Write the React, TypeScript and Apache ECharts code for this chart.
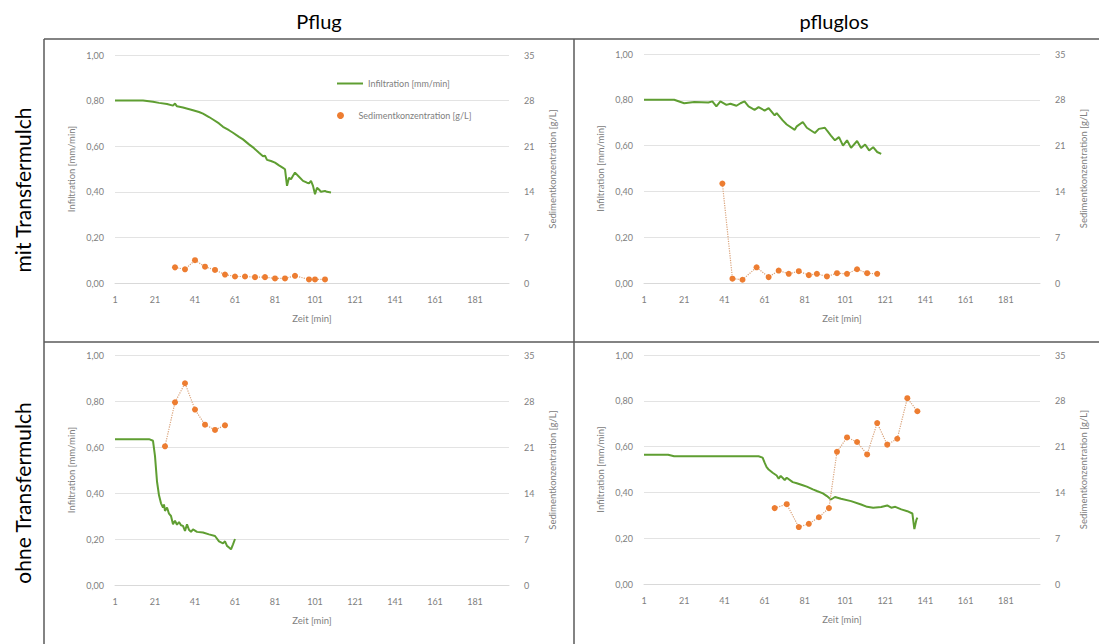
import React, { useEffect, useRef } from "react";
import * as echarts from "echarts";

// ---------- data ----------
const colTitles = ["Pflug", "pfluglos"];
const rowTitles = ["mit Transfermulch", "ohne Transfermulch"];
const infName = "Infiltration [mm/min]";
const sedName = "Sedimentkonzentration [g/L]";
const xTitle = "Zeit [min]";

// Panel A: mit Transfermulch / Pflug
const timeA = [1, 8, 15, 20, 23, 27, 30, 31, 32, 35, 40, 43, 45, 48, 50, 53, 55, 58, 60, 63, 65, 68, 70, 73, 75, 76, 77, 79, 81, 83, 85, 86, 87, 88, 89, 90, 91, 93, 95, 97, 98, 99, 100, 101, 102, 103, 104, 106, 107, 109];
const infA = [0.8, 0.8, 0.8, 0.795, 0.79, 0.785, 0.778, 0.787, 0.775, 0.77, 0.758, 0.75, 0.743, 0.728, 0.717, 0.7, 0.685, 0.67, 0.659, 0.641, 0.63, 0.608, 0.595, 0.571, 0.556, 0.558, 0.54, 0.535, 0.528, 0.516, 0.505, 0.499, 0.426, 0.462, 0.455, 0.47, 0.484, 0.466, 0.448, 0.44, 0.437, 0.448, 0.426, 0.389, 0.418, 0.41, 0.4, 0.404, 0.4, 0.397];
const sedTimeA = [31, 36, 41, 46, 51, 56, 61, 66, 71, 76, 81, 86, 91, 98, 101, 106];
const sedA = [2.4, 2.1, 3.5, 2.5, 2.0, 1.3, 1.0, 1.0, 0.9, 0.9, 0.7, 0.7, 1.1, 0.55, 0.55, 0.55];

// Panel B: mit Transfermulch / pfluglos
const timeB = [1, 16, 21, 26, 33, 35, 37, 39, 42, 44, 47, 49, 51, 53, 56, 58, 61, 63, 66, 67, 70, 72, 76, 77, 80, 82, 86, 88, 91, 92, 94, 96, 98, 100, 102, 104, 107, 109, 111, 113, 115, 117, 119];
const infB = [0.8, 0.8, 0.785, 0.79, 0.788, 0.793, 0.771, 0.793, 0.778, 0.783, 0.774, 0.785, 0.793, 0.771, 0.756, 0.768, 0.753, 0.764, 0.732, 0.742, 0.71, 0.692, 0.669, 0.684, 0.703, 0.678, 0.655, 0.673, 0.678, 0.666, 0.644, 0.623, 0.637, 0.6, 0.623, 0.59, 0.62, 0.59, 0.605, 0.579, 0.593, 0.572, 0.564];
const sedTimeB = [40, 45, 50, 57, 63, 68, 73, 78, 83, 87, 92, 97, 102, 107, 112, 117];
const sedB = [15.2, 0.66, 0.5, 2.4, 0.9, 1.9, 1.4, 1.8, 1.2, 1.4, 1.0, 1.5, 1.4, 2.1, 1.5, 1.4];

// Panel C: ohne Transfermulch / Pflug
const timeC = [1, 10, 18, 20, 21, 22, 23, 24, 25, 25.5, 26, 27, 28, 29, 30, 31, 32, 33, 34, 35, 36, 37, 38, 39, 40, 42, 45, 48, 51, 53, 55, 56, 57, 58, 59, 60, 61];
const infC = [0.634, 0.634, 0.634, 0.627, 0.56, 0.45, 0.39, 0.355, 0.337, 0.35, 0.322, 0.337, 0.31, 0.3, 0.264, 0.279, 0.262, 0.274, 0.26, 0.257, 0.235, 0.264, 0.24, 0.231, 0.242, 0.231, 0.228, 0.22, 0.213, 0.19, 0.181, 0.19, 0.17, 0.163, 0.155, 0.177, 0.2];
const sedTimeC = [26, 31, 36, 41, 46, 51, 56];
const sedC = [21.1, 27.8, 30.7, 26.7, 24.4, 23.6, 24.3];

// Panel D: ohne Transfermulch / pfluglos
const timeD = [1, 13, 16, 33, 58, 60, 61, 62, 63, 65, 67, 68, 69, 71, 72, 75, 77, 80, 82, 85, 87, 90, 92, 94, 96, 99, 104, 109, 112, 115, 119, 122, 124, 126, 129, 132, 134.5, 135.5, 136.5, 137];
const infD = [0.564, 0.564, 0.558, 0.558, 0.558, 0.552, 0.53, 0.51, 0.5, 0.486, 0.474, 0.46, 0.472, 0.454, 0.464, 0.445, 0.44, 0.431, 0.425, 0.413, 0.406, 0.396, 0.384, 0.369, 0.38, 0.372, 0.362, 0.347, 0.337, 0.333, 0.336, 0.343, 0.333, 0.337, 0.326, 0.318, 0.308, 0.24, 0.28, 0.29];
const sedTimeD = [66, 72, 78, 83, 88, 93, 97, 102, 107, 112, 117, 122, 127, 132, 137];
const sedD = [11.6, 12.2, 8.7, 9.2, 10.2, 11.6, 20.2, 22.4, 21.7, 19.8, 24.6, 21.3, 22.2, 28.4, 26.4];

const panels = [
  { t: timeA, inf: infA, st: sedTimeA, sed: sedA },
  { t: timeB, inf: infB, st: sedTimeB, sed: sedB },
  { t: timeC, inf: infC, st: sedTimeC, sed: sedC },
  { t: timeD, inf: infD, st: sedTimeD, sed: sedD },
];

// ---------- layout ----------
const FONT = "Lato, 'Open Sans', sans-serif";
const GREEN = "#5f9e32";
const ORANGE = "#ed7d31";
const LABEL = "#808080";
const gridBoxes = [
  { left: 115, top: 55, width: 394, height: 228 },
  { left: 644, top: 54, width: 396, height: 229 },
  { left: 115, top: 355, width: 394, height: 230 },
  { left: 644, top: 355, width: 396, height: 229 },
];

function buildOption() {
  const grid = gridBoxes.map((g) => ({ ...g }));
  const xAxis: any[] = [];
  const yAxis: any[] = [];
  const series: any[] = [];
  panels.forEach((p, i) => {
    xAxis.push({
      type: "value",
      gridIndex: i,
      min: 1,
      max: 198,
      interval: 20,
      name: xTitle,
      nameLocation: "middle",
      nameGap: 30,
      nameTextStyle: { color: LABEL, fontSize: 9.5, fontFamily: FONT },
      axisLine: { show: true, lineStyle: { color: "#d9d9d9", width: 1 } },
      axisTick: { show: false },
      splitLine: { show: false },
      axisLabel: { color: LABEL, fontSize: 9, fontFamily: FONT, margin: 12, showMaxLabel: false },
    });
    yAxis.push({
      type: "value",
      gridIndex: i,
      min: 0,
      max: 1,
      interval: 0.2,
      name: infName,
      nameLocation: "middle",
      nameGap: 39,
      nameTextStyle: { color: LABEL, fontSize: 9.5, fontFamily: FONT },
      axisLine: { show: false },
      axisTick: { show: false },
      splitLine: { show: true, lineStyle: { color: "#e3e3e3", width: 1 } },
      axisLabel: {
        color: LABEL,
        fontSize: 9,
        fontFamily: FONT,
        margin: 11,
        formatter: (v: number) => v.toFixed(2).replace(".", ","),
      },
    });
    yAxis.push({
      type: "value",
      gridIndex: i,
      position: "right",
      min: 0,
      max: 35,
      interval: 7,
      name: sedName,
      nameLocation: "middle",
      nameGap: 38,
      nameRotate: 90,
      nameTextStyle: { color: LABEL, fontSize: 9.5, fontFamily: FONT },
      axisLine: { show: false },
      axisTick: { show: false },
      splitLine: { show: false },
      axisLabel: { color: LABEL, fontSize: 9, fontFamily: FONT, margin: 15 },
    });
    series.push({
      name: infName,
      type: "line",
      xAxisIndex: i,
      yAxisIndex: i * 2,
      data: p.t.map((t, k) => [t, p.inf[k]]),
      showSymbol: false,
      symbol: "none",
      lineStyle: { color: GREEN, width: 2 },
      itemStyle: { color: GREEN },
      z: 3,
    });
    series.push({
      name: sedName,
      type: "line",
      xAxisIndex: i,
      yAxisIndex: i * 2 + 1,
      data: p.st.map((t, k) => [t, p.sed[k]]),
      symbol: "circle",
      symbolSize: 6,
      showSymbol: true,
      lineStyle: { color: "#d9a27a", width: 1.2, type: "dotted" },
      itemStyle: { color: ORANGE },
      z: 4,
    });
  });

  const border = "#5a5a5a";
  const graphic: any[] = [
    { type: "line", shape: { x1: 44, y1: 39, x2: 1099, y2: 39 }, style: { stroke: border, lineWidth: 1.5 } },
    { type: "line", shape: { x1: 44, y1: 342, x2: 1099, y2: 342 }, style: { stroke: border, lineWidth: 1.5 } },
    { type: "line", shape: { x1: 44, y1: 39, x2: 44, y2: 644 }, style: { stroke: border, lineWidth: 1.5 } },
    { type: "line", shape: { x1: 574, y1: 39, x2: 574, y2: 644 }, style: { stroke: border, lineWidth: 1.5 } },
    {
      type: "text",
      x: 319,
      y: 21,
      style: { text: colTitles[0], align: "center", verticalAlign: "middle", fill: "#000", font: `20px ${FONT}` },
    },
    {
      type: "text",
      x: 834,
      y: 21,
      style: { text: colTitles[1], align: "center", verticalAlign: "middle", fill: "#000", font: `20px ${FONT}` },
    },
    {
      type: "text",
      x: 22,
      y: 190,
      rotation: Math.PI / 2,
      style: { text: rowTitles[0], align: "center", verticalAlign: "middle", fill: "#000", font: `21px ${FONT}` },
    },
    {
      type: "text",
      x: 22,
      y: 493,
      rotation: Math.PI / 2,
      style: { text: rowTitles[1], align: "center", verticalAlign: "middle", fill: "#000", font: `21px ${FONT}` },
    },
  ];

  return {
    animation: false,
    backgroundColor: "#ffffff",
    textStyle: { fontFamily: FONT },
    grid,
    xAxis,
    yAxis,
    series,
    legend: [
      {
        data: [{ name: infName, icon: "rect" }],
        left: 332,
        top: 74,
        itemWidth: 26,
        itemHeight: 2,
        itemGap: 4,
        selectedMode: false,
        textStyle: { color: LABEL, fontSize: 9, fontFamily: FONT },
      },
      {
        data: [{ name: sedName, icon: "circle" }],
        left: 332,
        top: 106,
        itemWidth: 26,
        itemHeight: 7,
        selectedMode: false,
        textStyle: { color: LABEL, fontSize: 9, fontFamily: FONT },
      },
    ],
    graphic,
  };
}

export default function App() {
  const ref = useRef<HTMLDivElement>(null);
  useEffect(() => {
    if (!ref.current) return;
    const chart = echarts.init(ref.current, undefined, { renderer: "svg" });
    chart.setOption(buildOption());
    return () => chart.dispose();
  }, []);
  return (
    <div
      ref={ref}
      style={{ position: "fixed", left: 0, top: 0, width: 1099, height: 644, background: "#fff" }}
    />
  );
}
